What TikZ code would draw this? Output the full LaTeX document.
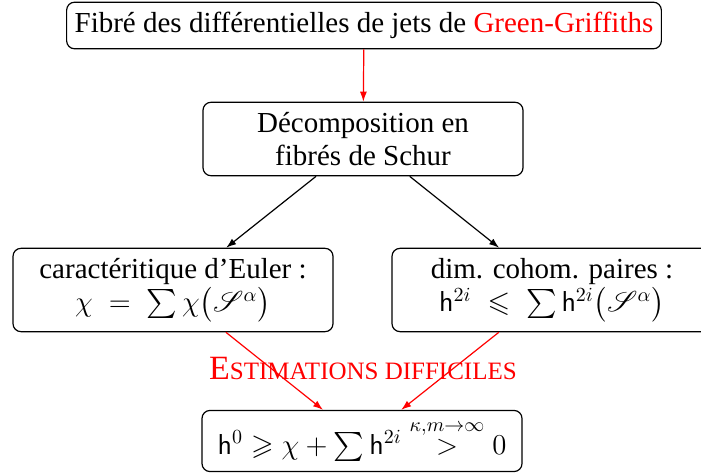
\documentclass[tikz,border=0pt]{standalone}
\usepackage{amsmath,amssymb,mathrsfs}
\usepackage[no-math]{fontspec}
\setmainfont{Liberation Serif}
\usetikzlibrary{arrows.meta}
\newcommand{\petitescap}[1]{{\fontsize{12.5}{14}\selectfont #1}}

\begin{document}
\begin{tikzpicture}[x=0.5pt,y=-0.5pt,font=\fontsize{14.5}{16.5}\selectfont,
  boite/.style={draw,rounded corners=4pt,align=center,inner xsep=4pt,inner ysep=5pt,line width=0.6pt},
  grandeboite/.style={boite,minimum width=160pt},
  fleche/.style={-{Latex[length=5pt,width=3.5pt]},line width=0.6pt}]
  \useasboundingbox (0,0) rectangle (701,475);

  %% boxes
  \node[boite] (fibre) at (364,25.5)
    {Fibré des différentielles de jets de \textcolor{red}{Green-Griffiths}};
  \node[grandeboite] (schur) at (363,139) {Décomposition en\\fibrés de Schur};
  \node[grandeboite] (euler) at (173,290)
    {caractéritique d’Euler :\\ $\chi \;=\; \sum \chi\bigl(\mathscr{S}^{\alpha}\bigr)$};
  \node[grandeboite] (cohom) at (552,290)
    {dim. cohom. paires :\\ $\mathsf{h}^{2i} \;\leqslant\; \sum \mathsf{h}^{2i}\bigl(\mathscr{S}^{\alpha}\bigr)$};
  \node[grandeboite] (final) at (362,441)
    {$\mathsf{h}^{0} \geqslant \chi + \sum \mathsf{h}^{2i} \stackrel{\kappa,m\to\infty}{>} 0$};

  %% arrows
  \draw[fleche,red] (fibre) -- (schur);
  \draw[fleche] (schur) -- (euler);
  \draw[fleche] (schur) -- (cohom);
  \draw[fleche,red] (euler) -- (final);
  \draw[fleche,red] (cohom) -- (final);

  \node[red,font=\fontsize{17}{19}\selectfont] (estim) at (363,368) {E\petitescap{STIMATIONS DIFFICILES}};
\end{tikzpicture}
\end{document}
